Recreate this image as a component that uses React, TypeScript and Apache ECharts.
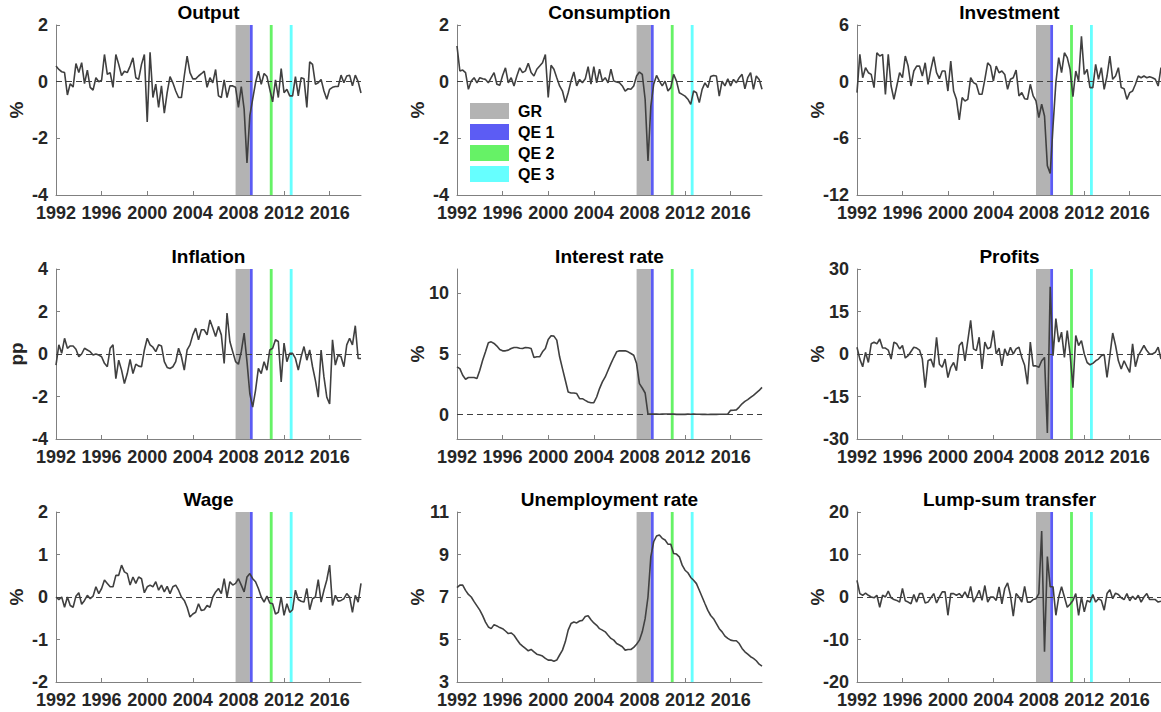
import React, { useEffect, useRef } from "react";
import * as echarts from "echarts";

// ---------------- DATA ----------------
const START_YEAR = 1992;
const X_MIN = 1992;
const X_MAX = 2018.75;
const yearTicks = [1992, 1996, 2000, 2004, 2008, 2012, 2016];

const output = [
  0.55, 0.43, 0.35, 0.32, -0.47, -0.07, -0.19, 0.64, 0.32, 0.67, -0.07, 0.41,
  -0.2, -0.3, 0.14, 0, 0.05, 0.96, 0.26, 0.32, -0.2, 0.96, 0.61, 0.22,
  0.37, 0.32, 0.55, 0.84, 0.14, 0.08, 0.61, 0.96, -1.42, 1.04, -0.56, -0.09,
  -0.91, -0.15, -1.11, -0.39, 0.18, -0.04, -0.33, -0.56, -0.56, 0.2, 0.9, 0.32,
  0.1, 0.1, 0.2, 0.28, 0.37, -0.2, 0.14, -0.04, 0.43, -0.5, -0.56, 0.06,
  -0.56, -0.15, -0.15, -0.2, -0.91, -0.17, -0.97, -2.87, -1.2, -0.62, -0.04, 0.37,
  -0.09, 0.29, 0.18, -0.27, -0.71, 0.06, -0.56, 0.46, -0.39, -0.27, -0.5, -0.5,
  0.18, -0.5, 0.14, 0.1, -0.91, 0.7, 0.61, -0.09, -0.04, 0.08, -0.33, -0.62,
  -0.27, -0.2, -0.17, -0.17, 0.23, -0.04, 0.2, 0.23, -0.15, 0.23, 0.0, -0.4,
];

const consumption = [
  1.26, 0.38, 0.41, 0.32, -0.27, 0.02, 0.14, -0.04, 0.14, 0.1, 0.08, -0.04,
  0.14, 0.32, -0.09, -0.13, 0.22, 0.49, -0.04, 0.14, -0.15, 0.2, 0.49, 0.32,
  0.38, 0.65, 0.32, 0.2, 0.44, 0.55, 0.67, 0.96, -0.56, 0.58, 0.44, 0.14,
  -0.15, -0.33, -0.74, -0.39, 0.02, 0.34, -0.15, 0.08, -0.04, 0.1, 0.53, -0.09,
  0.53, -0.04, 0.44, 0.02, 0.14, -0.04, 0.44, 0.02, -0.01, -0.04, -0.15, -0.33,
  -0.25, -0.27, -0.15, 0.2, 0.34, 0.26, -0.62, -2.8, -0.86, -0.09, 0.22, 0.02,
  -0.15, 0.02, -0.33, -0.21, 0.26, 0.02, -0.39, -0.45, -0.51, -0.62, -0.8, -0.33,
  -0.39, -0.74, -0.27, -0.04, -0.21, 0.18, 0.22, 0.2, -0.51, 0.02, -0.15, 0.1,
  -0.15, 0.08, -0.04, 0.14, 0.26, -0.25, 0.14, 0.32, -0.27, 0.2, 0.08, -0.27,
];

const investment = [
  -1.16, 2.89, 0.42, 1.48, 0.95, 0.77, -0.63, 3.06, 2.71, 2.89, -1.34, 2.89,
  -0.46, -1.87, -0.46, 0.95, 0.42, 2.71, 1.65, -0.46, 1.13, 1.65, 1.65, 0.6,
  2.0, -0.28, 1.3, 2.64, 0.95, 0.32, 1.13, 1.13, -0.99, 2.18, -0.99, -1.87,
  -4.05, -1.69, -2.04, -1.87, 0.42, -0.1, -0.28, -1.34, -1.34, 0.25, 2.0, 1.65,
  0.07, 1.65, 0.95, 1.13, 0.77, -0.81, 0.25, 0.42, 1.23, -1.51, -1.16, -1.8,
  -1.87, -0.28, -1.51, -2.04, -3.8, -2.39, -3.63, -8.9, -9.72, -4.68, -0.1, 2.54,
  0.95, 3.06, 2.54, 1.3, -1.58, 1.13, 0.07, 4.8, 0.77, 1.3, -0.63, -0.63,
  1.83, 0.25, 1.48, -0.81, 0.6, 2.71, 0.25, 0.6, 1.48, -0.63, -0.74, -1.87,
  -1.16, -0.99, -0.28, 0.6, 0.42, 0.6, 0.42, 0.53, 0.42, 0.25, -0.46, 1.5,
];

const inflation = [
  -0.52, 0.43, 0.03, 0.74, 0.27, 0.38, 0.38, 0.22, -0.13, 0, 0.27, 0.19,
  0.11, -0.05, 0, -0.05, -0.13, -0.44, -0.6, 0.27, 0.43, -1.16, -0.29, -0.76,
  -1.39, -0.92, -0.25, -0.92, -0.48, -0.57, -0.6, 0.19, 0.74, 0.43, 0.32, 0.11,
  0.43, 0.38, -0.36, -0.63, -0.68, -0.6, -0.36, 0.27, -0.13, -0.76, 0.19, 0.43,
  0.9, 1.22, 0.67, 1.14, 1.14, 0.9, 1.6, 1.22, 0.82, 1.3, 0.9, -0.44,
  1.93, 0.59, 0.11, -0.36, -0.48, 0.11, 0.98, -0.36, -1.87, -2.5, -1.71, -0.68,
  -0.92, -0.36, -0.76, 0.19, 0.27, 0.67, 0.59, -1.31, 0.51, -0.36, 0.03, 0.03,
  -0.21, -0.76, -0.13, 0.35, -0.29, 0.19, -0.6, -1.24, -2.03, 0.19, -1.08, -2.03,
  -2.35, 0.67, -0.52, -0.05, -0.13, -0.6, 0.43, 0.74, 0.43, 1.33, -0.21, -0.21,
];

const interestRate = [
  3.94, 3.8, 3.25, 2.92, 3.06, 3.06, 3.06, 2.98, 3.66, 4.49, 5.18, 5.92,
  6.0, 5.87, 5.65, 5.37, 5.26, 5.26, 5.32, 5.45, 5.54, 5.54, 5.48, 5.45,
  5.54, 5.51, 5.45, 4.71, 4.77, 4.77, 5.18, 5.45, 6.2, 6.5, 6.47, 6.14,
  4.77, 3.8, 2.84, 1.87, 1.79, 1.79, 1.74, 1.32, 1.32, 1.18, 1.05, 0.99,
  0.99, 1.46, 2.15, 2.7, 3.11, 3.66, 4.21, 4.71, 5.18, 5.26, 5.26, 5.26,
  5.18, 5.04, 4.9, 4.21, 2.56, 2.2, 1.79, 0.05, 0.05, 0.06, 0.05, 0.04,
  0.05, 0.06, 0.06, 0.06, 0.05, 0.03, 0.03, 0.03, 0.03, 0.05, 0.04, 0.05,
  0.04, 0.04, 0.03, 0.03, 0.02, 0.03, 0.03, 0.03, 0.04, 0.04, 0.04, 0.05,
  0.36, 0.37, 0.4, 0.63, 0.9, 1.1, 1.24, 1.42, 1.6, 1.8, 2.0, 2.25,
];

const profits = [
  2.4, -1.8, -4.5, 0.6, -3.0, 3.6, 4.2, 3.6, 5.3, 2.1, 2.1, 1.4,
  -1.8, 4.2, 3.6, 1.8, 3.0, -1.4, -0.6, 0.9, 2.4, 2.1, 1.4, -1.8,
  -11.9, -2.4, -1.8, -4.7, 5.9, -3.6, -4.7, -1.8, -8.3, -4.7, -3.0, -5.9,
  3.0, 4.2, -2.4, 4.7, 11.9, 1.8, 1.2, 5.9, -5.3, 4.2, 1.8, 2.4,
  8.3, 0, 2.1, -4.2, 1.8, -0.6, 2.4, 0, 1.8, 2.4, -1.2, -4.0,
  -10.7, 4.2, -4.2, -4.2, -4.7, -2.4, -1.2, -27.9, 23.7, -0.6, 12.5, 4.2,
  7.7, -1.2, 8.3, 0, -11.9, 6.5, 3.0, 4.7, 0, -3.0, -3.8, -3.3,
  -2.4, -1.8, -0.6, -0.2, -8.3, -0.6, 7.4, 3.0, -2.4, -5.3, -2.4, -4.5,
  -6.5, 3.6, -4.5, -0.6, 1.2, 3.0, 1.2, 0, 0, 0.6, 2.4, -1.8,
];

const wage = [
  0, -0.06, 0, -0.24, 0, -0.2, -0.24, 0.02, 0.1, -0.17, -0.08, 0.04,
  -0.04, 0.02, 0.24, 0.08, 0.2, 0.4, 0.32, 0.24, 0.24, 0.51, 0.51, 0.75,
  0.59, 0.55, 0.28, 0.47, 0.32, 0.47, 0.43, 0.1, 0.24, 0.28, 0.24, 0.36,
  0.16, 0.28, 0.12, 0.25, 0.08, 0.24, 0.28, 0.16, 0, -0.08, -0.24, -0.47,
  -0.4, -0.36, -0.16, -0.32, -0.3, -0.2, -0.24, 0, 0.12, 0.2, 0.08, 0.43,
  0, 0.36, 0.28, 0.32, 0.43, 0.28, 0.12, 0.47, 0.55, 0.43, 0.36, 0.2,
  0, -0.12, 0.02, -0.14, -0.16, -0.4, -0.36, 0, -0.43, -0.16, -0.36, -0.3,
  0.16, -0.06, -0.1, -0.12, 0.2, -0.3, -0.04, 0, 0.41, -0.12, 0.16, 0.4,
  0.75, -0.2, 0.04, -0.1, -0.08, -0.04, 0.08, 0, -0.36, 0.04, -0.12, 0.32,
];

const unemployment = [
  7.44, 7.56, 7.56, 7.31, 7.12, 7.0, 6.78, 6.58, 6.38, 6.12, 5.82, 5.59,
  5.51, 5.7, 5.64, 5.56, 5.51, 5.4, 5.28, 5.31, 5.2, 5.0, 4.81, 4.69,
  4.58, 4.47, 4.53, 4.42, 4.31, 4.27, 4.22, 4.11, 4.03, 4.03, 3.98, 4.03,
  4.27, 4.5, 4.89, 5.44, 5.75, 5.82, 5.78, 5.87, 5.9, 6.08, 6.12, 5.93,
  5.78, 5.67, 5.51, 5.44, 5.36, 5.2, 5.05, 4.97, 4.81, 4.74, 4.66, 4.5,
  4.53, 4.53, 4.63, 4.78, 4.97, 5.36, 5.98, 7.0, 8.9, 9.6, 9.87, 9.92,
  9.76, 9.68, 9.49, 9.48, 9.05, 9.02, 8.89, 8.5, 8.26, 8.14, 7.92, 7.79,
  7.63, 7.32, 7.0, 6.68, 6.37, 6.13, 5.98, 5.75, 5.51, 5.36, 5.16, 5.05,
  4.97, 4.94, 4.94, 4.81, 4.58, 4.42, 4.31, 4.19, 4.11, 4.0, 3.84, 3.75,
];

const lumpSum = [
  3.9, 0.8, 0.4, 0.9, 0.4, 0, -0.2, 0.4, -2.4, 0.4, 0, 1.4,
  -0.2, -0.6, -0.8, -1.2, 2.0, -0.9, -1.2, -1.6, 0.6, -1.2, 0.8, 0.8,
  -1.4, -1.2, -0.2, 0.8, -1.4, 0, 1.2, 1.2, -4.3, 0.8, 0.8, 0.4,
  0.8, 0, 1.2, -0.2, 2.5, -1.2, 0, 1.6, -0.8, 2.7, -1.2, 0,
  0, -0.8, 2.4, -1.6, 2.0, 3.3, 0.4, -4.5, 0.8, 0, -1.2, 2.5,
  -1.2, -1.2, -0.6, -0.4, 0.8, 15.5, -12.9, 9.5, 2.4, 2.4, -4.3, 0,
  2.4, 0, -2.4, -1.7, -0.8, 0.8, -4.3, 0, -3.5, -0.8, -1.2, 0.6,
  -1.2, -0.4, -0.8, -3.1, 0.8, 1.7, -0.4, 0.9, 0.6, -0.2, -0.6, 0.8,
  -0.9, 0.2, -0.6, 0.4, -1.2, 0, 0.8, -0.6, -0.6, -0.6, -1.2, -1.0,
];

const ticksOutput = [-4, -2, 0, 2];
const ticksInvestment = [-12, -6, 0, 6];
const ticksInflation = [-4, -2, 0, 2, 4];
const ticksInterest = [0, 5, 10];
const ticksProfits = [-30, -15, 0, 15, 30];
const ticksWage = [-2, -1, 0, 1, 2];
const ticksUnemployment = [3, 5, 7, 9, 11];
const ticksLumpSum = [-20, -10, 0, 10, 20];

const panels = [
  { title: "Output", unit: "%", values: output, min: -4, max: 2, ticks: ticksOutput, zeroLine: true },
  { title: "Consumption", unit: "%", values: consumption, min: -4, max: 2, ticks: ticksOutput, zeroLine: true },
  { title: "Investment", unit: "%", values: investment, min: -12, max: 6, ticks: ticksInvestment, zeroLine: true },
  { title: "Inflation", unit: "pp", values: inflation, min: -4, max: 4, ticks: ticksInflation, zeroLine: true },
  { title: "Interest rate", unit: "%", values: interestRate, min: -2, max: 12, ticks: ticksInterest, zeroLine: true },
  { title: "Profits", unit: "%", values: profits, min: -30, max: 30, ticks: ticksProfits, zeroLine: true },
  { title: "Wage", unit: "%", values: wage, min: -2, max: 2, ticks: ticksWage, zeroLine: true },
  { title: "Unemployment rate", unit: "%", values: unemployment, min: 3, max: 11, ticks: ticksUnemployment, zeroLine: false },
  { title: "Lump-sum transfer", unit: "%", values: lumpSum, min: -20, max: 20, ticks: ticksLumpSum, zeroLine: true },
];

// Shaded episodes (start / end, in years)
const bands = [
  { name: "GR", start: 2007.75, end: 2009.0 },
  { name: "QE 1", start: 2009.0, end: 2009.25 },
  { name: "QE 2", start: 2010.75, end: 2011.0 },
  { name: "QE 3", start: 2012.5, end: 2012.75 },
];

// ---------------- STYLE ----------------
const BAND_COLORS: Record<string, string> = {
  GR: "#b3b3b3",
  "QE 1": "#5c5cf4",
  "QE 2": "#66f266",
  "QE 3": "#66ffff",
};
const FONT = "'Liberation Sans', Arial, Helvetica, sans-serif";
const AXIS_COLOR = "#808080";
const TEXT_COLOR = "#262626";
const LINE_COLOR = "#404040";
const COL_LEFT = [56, 457, 857];
const ROW_TOP = [25, 269, 512];
const PLOT_W = 305;
const PLOT_H = 170;

function buildOption() {
  const quarterDates = output.map((_, i) => START_YEAR + i / 4);
  const pos = (i: number) => ({ left: COL_LEFT[i % 3], top: ROW_TOP[Math.floor(i / 3)] });

  const labelStyle = { fontSize: 18, fontWeight: "bold", color: TEXT_COLOR, fontFamily: FONT };

  const grid = panels.map((_, i) => ({ ...pos(i), width: PLOT_W, height: PLOT_H, containLabel: false }));

  const xAxis = panels.map((_, i) => ({
    type: "value",
    gridIndex: i,
    min: X_MIN,
    max: X_MAX,
    axisLine: { show: true, onZero: false, lineStyle: { color: AXIS_COLOR, width: 1 } },
    axisTick: { show: true, inside: true, length: 4, customValues: yearTicks, lineStyle: { color: AXIS_COLOR } },
    axisLabel: { ...labelStyle, customValues: yearTicks, margin: 9, formatter: (v: number) => String(v) },
    splitLine: { show: false },
  }));

  const yAxis = panels.map((p, i) => ({
    type: "value",
    gridIndex: i,
    min: p.min,
    max: p.max,
    axisLine: { show: true, onZero: false, lineStyle: { color: AXIS_COLOR, width: 1 } },
    axisTick: { show: true, inside: true, length: 4, customValues: p.ticks, lineStyle: { color: AXIS_COLOR } },
    axisLabel: { ...labelStyle, customValues: p.ticks, margin: 8, formatter: (v: number) => String(v) },
    splitLine: { show: false },
  }));

  const dataSeries = panels.map((p, i) => ({
    type: "line",
    name: p.title,
    xAxisIndex: i,
    yAxisIndex: i,
    data: p.values.map((v, k) => [quarterDates[k], v]),
    showSymbol: false,
    symbol: "none",
    silent: true,
    clip: true,
    lineStyle: { color: LINE_COLOR, width: 1.6 },
    itemStyle: { color: LINE_COLOR },
    markArea: {
      silent: true,
      data: bands.map((b) => [
        { xAxis: b.start, itemStyle: { color: BAND_COLORS[b.name], opacity: 1 } },
        { xAxis: b.end },
      ]),
    },
    markLine: p.zeroLine
      ? {
          silent: true,
          symbol: ["none", "none"],
          label: { show: false },
          lineStyle: { type: [6, 4], color: "#404040", width: 1 },
          data: [{ yAxis: 0 }],
        }
      : undefined,
  }));

  const legendSeries = bands.map((b) => ({
    type: "line",
    name: b.name,
    xAxisIndex: 1,
    yAxisIndex: 1,
    data: [],
    color: BAND_COLORS[b.name],
    itemStyle: { color: BAND_COLORS[b.name] },
    lineStyle: { color: BAND_COLORS[b.name] },
  }));

  const titles = panels.map((p, i) => ({
    type: "text",
    x: COL_LEFT[i % 3] + PLOT_W / 2,
    y: ROW_TOP[Math.floor(i / 3)] - 13,
    silent: true,
    style: {
      text: p.title,
      fill: "#000",
      font: `bold 19px ${FONT}`,
      align: "center",
      verticalAlign: "middle",
      textAlign: "center",
      textVerticalAlign: "middle",
    },
  }));

  const units = panels.map((p, i) => ({
    type: "text",
    x: COL_LEFT[i % 3] - 40,
    y: ROW_TOP[Math.floor(i / 3)] + PLOT_H / 2,
    rotation: Math.PI / 2,
    silent: true,
    style: {
      text: p.unit,
      fill: TEXT_COLOR,
      font: `bold 19px ${FONT}`,
      align: "center",
      verticalAlign: "middle",
      textAlign: "center",
      textVerticalAlign: "middle",
    },
  }));

  return {
    animation: false,
    backgroundColor: "#ffffff",
    grid,
    xAxis,
    yAxis,
    legend: {
      show: true,
      data: bands.map((b) => ({ name: b.name, icon: "rect" })),
      orient: "vertical",
      left: 465,
      top: 98,
      itemWidth: 39,
      itemHeight: 16,
      itemGap: 5,
      selectedMode: false,
      textStyle: { fontSize: 16, fontWeight: "bold", color: "#000", fontFamily: FONT, padding: [0, 0, 0, 4] },
    },
    series: [...dataSeries, ...legendSeries],
    graphic: [...titles, ...units],
  };
}

export default function App() {
  const ref = useRef<HTMLDivElement>(null);
  useEffect(() => {
    if (!ref.current) return;
    const chart = echarts.init(ref.current, null, { renderer: "svg" });
    chart.setOption(buildOption() as any);
    return () => chart.dispose();
  }, []);
  return (
    <div
      ref={ref}
      style={{ position: "fixed", left: 0, top: 0, width: 1161, height: 712, background: "#fff" }}
    />
  );
}
